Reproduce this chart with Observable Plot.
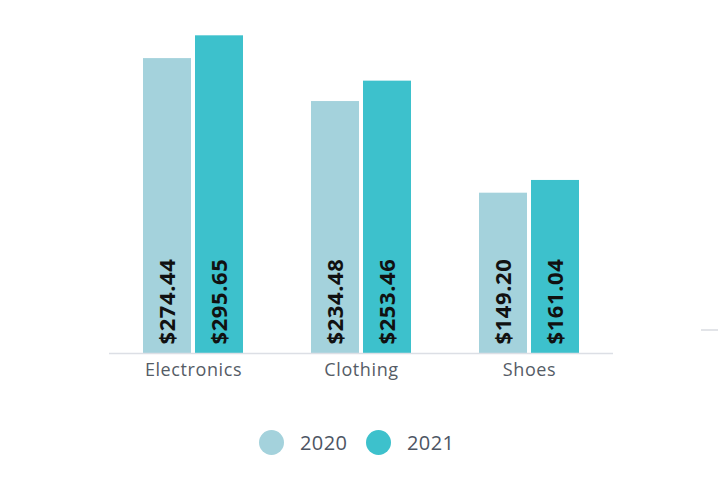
<!DOCTYPE html>
<html>
<head>
<meta charset="utf-8">
<script src="https://cdn.jsdelivr.net/npm/d3@7"></script>
<script src="https://cdn.jsdelivr.net/npm/@observablehq/plot@0.6"></script>
<style>
  html, body { margin: 0; padding: 0; background: #fff; }
  #wrap { position: relative; width: 719px; height: 477px; font-family: "Open Sans", sans-serif; }
  #legend { position: absolute; left: 0; top: 430px; width: 719px; }
  .item { display: flex; align-items: center; position: absolute; top: 0; }
  .sw { width: 25px; height: 25px; border-radius: 50%; }
  .lab { font-size: 20px; color: #4d5563; margin-left: 16px; line-height: 25px; letter-spacing: 0.4px; }
  #tick { position: absolute; left: 701px; top: 329px; width: 17px; height: 1.5px; background: #e2e4e8; }
  .catlab text { letter-spacing: 0.6px; }
  .vallab text { letter-spacing: 0.6px; }
</style>
</head>
<body>
<div id="wrap">
  <div id="chart"></div>
  <div id="legend"></div>
  <div id="tick"></div>
</div>
<script>
const categories = ["Electronics", "Clothing", "Shoes"];
const years = ["2020", "2021"];
const values2020 = [274.44, 234.48, 149.20];
const values2021 = [295.65, 253.46, 161.04];
const colors = ["#a4d2dc", "#3dc1cc"];

const data = [];
categories.forEach((c, i) => {
  data.push({category: c, year: years[0], value: values2020[i]});
  data.push({category: c, year: years[1], value: values2021[i]});
});

const fmt = d3.format(".2f");

const chart = Plot.plot({
  width: 719,
  height: 400,
  marginLeft: 109,
  marginRight: 106,
  marginTop: 20,
  marginBottom: 47,
  style: {background: "#fff"},
  fx: {domain: categories, padding: 0, label: null},
  x: {domain: years, axis: null, paddingInner: 0.07, paddingOuter: 0.62},
  y: {domain: [0, 309.9], axis: null},
  color: {domain: years, range: colors},
  marks: [
    Plot.barY(data, {fx: "category", x: "year", y: "value", fill: "year"}),
    Plot.ruleY([0], {stroke: "#dcdfe5", strokeWidth: 1.5}),
    Plot.text(data, {
      fx: "category", x: "year", y: 0,
      text: d => "$" + fmt(d.value),
      rotate: -90, textAnchor: "start", dy: -9,
      fontSize: 22, fontWeight: "bold", fill: "#111",
      fontFamily: "Open Sans", className: "vallab"
    }),
    Plot.axisFx({anchor: "bottom", tickSize: 0, tickPadding: 10, fontSize: 18, color: "#555c66", fontFamily: "Open Sans", label: null, className: "catlab"})
  ]
});
document.getElementById("chart").appendChild(chart);

const legend = document.getElementById("legend");
const lefts = [259, 366];
years.forEach((y, i) => {
  const it = document.createElement("div");
  it.className = "item";
  it.style.left = lefts[i] + "px";
  const sw = document.createElement("div");
  sw.className = "sw";
  sw.style.background = colors[i];
  const lab = document.createElement("div");
  lab.className = "lab";
  lab.textContent = y;
  it.appendChild(sw);
  it.appendChild(lab);
  legend.appendChild(it);
});
</script>
</body>
</html>
